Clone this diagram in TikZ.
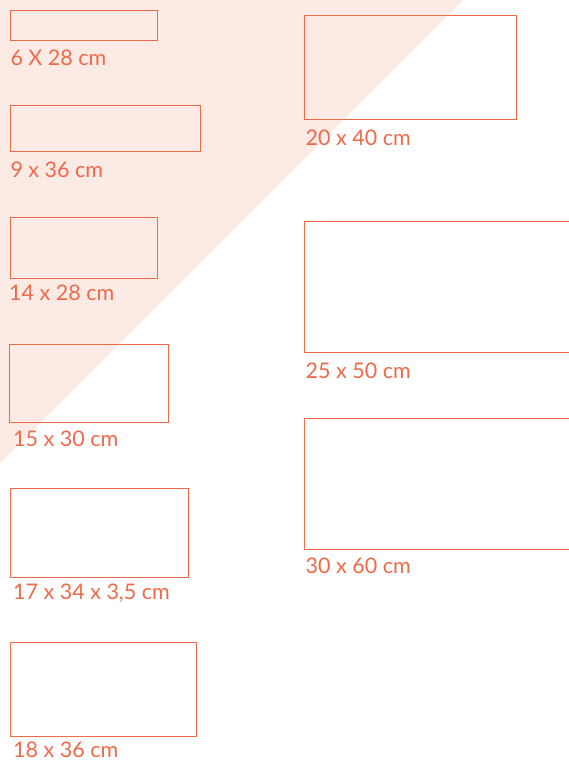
\documentclass[tikz,border=0pt]{standalone}
\usepackage{fontspec}
\setmainfont{Lato}
\definecolor{tri}{HTML}{FCEBE4}
\definecolor{ink}{HTML}{EE6A4A}
\begin{document}
\begin{tikzpicture}[x=1pt,y=-1pt,
  box/.style={draw=ink,line width=1pt},
  lab/.style={anchor=base west,inner sep=0pt,text=ink,font=\fontsize{21.5}{21.5}\selectfont}]
\useasboundingbox (0,0) rectangle (568,762);
\fill[white] (0,0) rectangle (568,762);
\fill[tri] (0,0) -- (463,0) -- (0,463) -- cycle;
% left column
\draw[box] (10.3,10.3) rectangle (157.7,40.3);
\node[lab] (l1) at (10.3,66) {6 X 28 cm};
\draw[box] (10.3,106) rectangle (200.3,152);
\node[lab] (l2) at (10.3,177.5) {9 x 36 cm};
\draw[box] (10.3,217.3) rectangle (157.7,278.7);
\node[lab] (l3) at (9,300.5) {14 x 28 cm};
\draw[box] (9.3,344) rectangle (168,422.7);
\node[lab] (l4) at (13,446.5) {15 x 30 cm};
\draw[box] (10.3,488.3) rectangle (188.3,577.3);
\node[lab] (l5) at (13,599) {17 x 34 x 3,5 cm};
\draw[box] (10.3,642.7) rectangle (196.3,736.7);
\node[lab] (l6) at (13,757.5) {18 x 36 cm};
% right column
\draw[box] (304.7,16) rectangle (516.7,120);
\node[lab] (r1) at (305.5,146) {20 x 40 cm};
\draw[box] (575,221.3) -- (304.7,221.3) -- (304.7,352.7) -- (575,352.7);
\node[lab] (r2) at (305.5,378) {25 x 50 cm};
\draw[box] (575,418.3) -- (304.7,418.3) -- (304.7,549.3) -- (575,549.3);
\node[lab] (r3) at (305.5,573) {30 x 60 cm};
\end{tikzpicture}
\end{document}
